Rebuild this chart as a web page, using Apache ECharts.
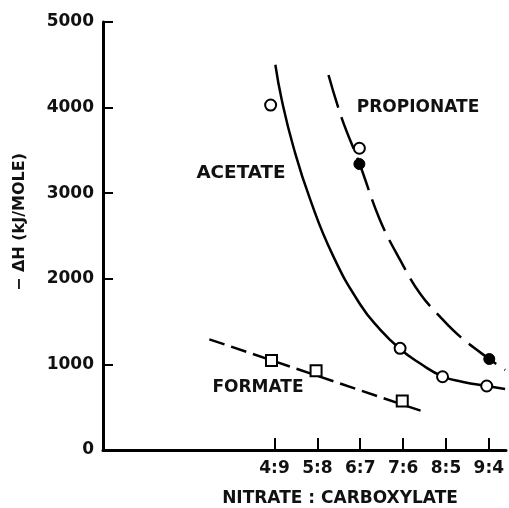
<!DOCTYPE html>
<html>
<head>
<meta charset="utf-8">
<script src="https://cdn.jsdelivr.net/npm/echarts@6/dist/echarts.min.js"></script>
<style>
html,body{margin:0;padding:0;background:#fff;}
#chart{width:509px;height:508px;}
</style>
</head>
<body>
<div id="chart"></div>
<script>
// Category positions on the nitrate:carboxylate axis and their labels
const ratioPositions = [4, 5, 6, 7, 8, 9];
const ratioLabels = ['4:9', '5:8', '6:7', '7:6', '8:5', '9:4'];
const yTicks = [0, 1000, 2000, 3000, 4000, 5000];

// Acetate: fitted curve and measured points (open circles)
const acetateCurveX = [4.02, 4.17, 4.44, 4.83, 5.37, 6.00, 6.45, 6.93, 7.40, 7.92, 8.40, 8.95, 9.38];
const acetateCurveY = [4500, 4089, 3543, 2930, 2265, 1700, 1415, 1180, 1010, 860, 795, 748, 713];
const acetatePointX = [3.91, 6.93, 7.92, 8.95];
const acetatePointY = [4030, 1188, 856, 748];

// Propionate: fitted curve, open and filled points
const propionateCurveX = [5.26, 5.57, 5.98, 6.46, 6.93, 7.39, 7.86, 8.33, 9.01, 9.38];
const propionateCurveY = [4381, 3875, 3350, 2687, 2220, 1831, 1557, 1324, 1063, 935];
const propionateOpenX = [5.98];
const propionateOpenY = [3525];
const propionateFilledX = [5.98, 9.01];
const propionateFilledY = [3341, 1063];

// Formate: fitted line and measured points (open squares)
const formateLineX = [2.48, 7.41];
const formateLineY = [1293, 459];
const formatePointX = [3.93, 4.97, 6.98];
const formatePointY = [1045, 926, 572];

const zip = (xs, ys) => xs.map((x, i) => [x, ys[i]]);
const FONT = '"DejaVu Sans", sans-serif';
const INK = '#111';

const chart = echarts.init(document.getElementById('chart'), null, {renderer: 'canvas'});
chart.setOption({
  animation: false,
  backgroundColor: '#fff',
  grid: {left: 103, right: 3, top: 22, bottom: 58, containLabel: false, outerBoundsMode: 'none'},
  xAxis: {
    type: 'value', min: 0, max: 9.4,
    name: 'NITRATE : CARBOXYLATE',
    nameLocation: 'middle', nameGap: 39,
    nameTextStyle: {fontFamily: FONT, fontWeight: 'bold', fontSize: 17, color: INK, padding: [0, 0, 0, 71], lineHeight: 19},
    axisLine: {lineStyle: {color: '#000', width: 3}},
    axisTick: {show: true, inside: true, length: 12, customValues: ratioPositions, lineStyle: {color: '#000', width: 2}},
    axisLabel: {customValues: ratioPositions, margin: 10, fontFamily: FONT, fontWeight: 'bold', fontSize: 17, color: INK,
      formatter: v => ratioLabels[ratioPositions.indexOf(Math.round(v))] || ''},
    splitLine: {show: false}
  },
  yAxis: {
    type: 'value', min: 0, max: 5000, interval: 1000,
    name: '− ΔH (kJ/MOLE)',
    nameLocation: 'middle', nameGap: 75,
    nameTextStyle: {fontFamily: FONT, fontWeight: 'bold', fontSize: 16, color: INK, padding: [0, 0, 0, 28]},
    axisLine: {show: true, lineStyle: {color: '#000', width: 3}},
    axisTick: {show: true, inside: true, length: 10, lineStyle: {color: '#000', width: 2}},
    axisLabel: {margin: 9, fontFamily: FONT, fontWeight: 'bold', fontSize: 17, color: INK,
      formatter: v => String(yTicks[yTicks.indexOf(v)])},
    splitLine: {show: false}
  },
  graphic: [
    {type: 'text', x: 418, y: 108, style: {text: 'PROPIONATE', font: 'bold 17px ' + FONT, fill: INK, align: 'center', verticalAlign: 'middle'}},
    {type: 'text', x: 241, y: 174, scaleX: 1.08, style: {text: 'ACETATE', font: 'bold 17px ' + FONT, fill: INK, align: 'center', verticalAlign: 'middle'}},
    {type: 'text', x: 258, y: 388, style: {text: 'FORMATE', font: 'bold 17px ' + FONT, fill: INK, align: 'center', verticalAlign: 'middle'}}
  ],
  series: [
    {name: 'Acetate curve', type: 'line', data: zip(acetateCurveX, acetateCurveY), smooth: 0.5,
      showSymbol: false, symbol: 'none', lineStyle: {color: '#000', width: 2.5}, z: 2},
    {name: 'Propionate curve', type: 'line', data: zip(propionateCurveX, propionateCurveY), smooth: 0.4,
      showSymbol: false, symbol: 'none', lineStyle: {color: '#000', width: 2.5, type: [34, 10]}, z: 2},
    {name: 'Formate line', type: 'line', data: zip(formateLineX, formateLineY),
      showSymbol: false, symbol: 'none', lineStyle: {color: '#000', width: 2.5, type: [16, 7]}, z: 2},
    {name: 'Acetate', type: 'scatter', data: zip(acetatePointX, acetatePointY), symbol: 'circle', symbolSize: 11,
      itemStyle: {color: '#fff', borderColor: '#000', borderWidth: 2, opacity: 1}, z: 3},
    {name: 'Propionate (open)', type: 'scatter', data: zip(propionateOpenX, propionateOpenY), symbol: 'circle', symbolSize: 11,
      itemStyle: {color: '#fff', borderColor: '#000', borderWidth: 2, opacity: 1}, z: 3},
    {name: 'Propionate (filled)', type: 'scatter', data: zip(propionateFilledX, propionateFilledY), symbol: 'circle', symbolSize: 11,
      itemStyle: {color: '#000', borderColor: '#000', borderWidth: 1, opacity: 1}, z: 3},
    {name: 'Formate', type: 'scatter', data: zip(formatePointX, formatePointY), symbol: 'rect', symbolSize: 11,
      itemStyle: {color: '#fff', borderColor: '#000', borderWidth: 2, opacity: 1}, z: 3}
  ]
});
</script>
</body>
</html>
